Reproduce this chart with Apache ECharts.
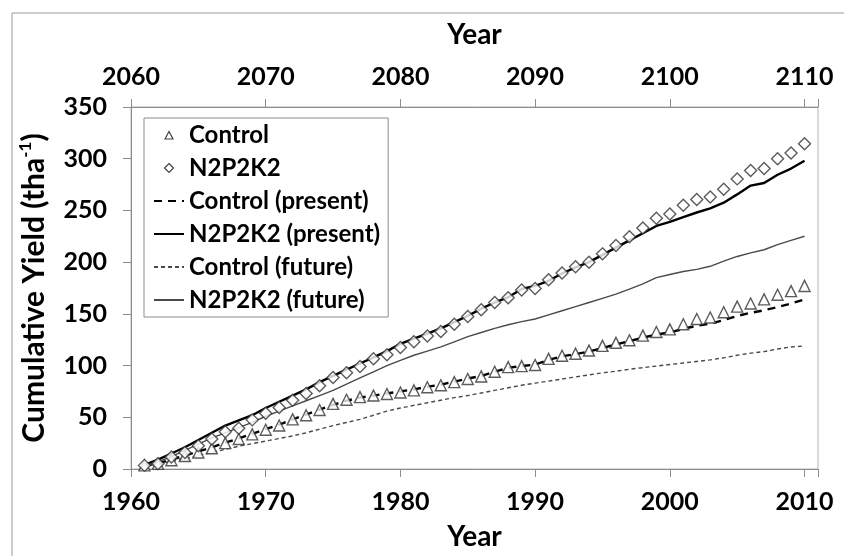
<!DOCTYPE html>
<html>
<head>
<meta charset="utf-8">
<script src="https://cdn.jsdelivr.net/npm/echarts@6/dist/echarts.min.js"></script>
<style>
  html, body { margin: 0; padding: 0; background: #fff; }
  #main { width: 844px; height: 556px; }
</style>
</head>
<body>
<div id="main"></div>
<script>
// years of the present run (bottom axis) and of the future run (top axis)
var years = [1961, 1962, 1963, 1964, 1965, 1966, 1967, 1968, 1969, 1970,
    1971, 1972, 1973, 1974, 1975, 1976, 1977, 1978, 1979, 1980,
    1981, 1982, 1983, 1984, 1985, 1986, 1987, 1988, 1989, 1990,
    1991, 1992, 1993, 1994, 1995, 1996, 1997, 1998, 1999, 2000,
    2001, 2002, 2003, 2004, 2005, 2006, 2007, 2008, 2009, 2010];
var futureYears = [2061, 2062, 2063, 2064, 2065, 2066, 2067, 2068, 2069, 2070,
    2071, 2072, 2073, 2074, 2075, 2076, 2077, 2078, 2079, 2080,
    2081, 2082, 2083, 2084, 2085, 2086, 2087, 2088, 2089, 2090,
    2091, 2092, 2093, 2094, 2095, 2096, 2097, 2098, 2099, 2100,
    2101, 2102, 2103, 2104, 2105, 2106, 2107, 2108, 2109, 2110];

// observed cumulative yield (markers)
var controlObs = [3.5, 5, 8.5, 12.5, 16, 20, 25, 29, 33.5, 38,
    42, 48, 52, 57, 63, 67, 69.5, 71, 72.5, 74,
    76, 79, 81, 84, 87, 89.5, 94, 98.5, 99.5, 100.5,
    106.5, 109.5, 111.5, 114.5, 119, 122, 124.5, 129, 132.5, 135,
    140, 145, 146.5, 151.5, 157, 160, 164, 168.5, 172, 177];
var n2p2k2Obs = [3.5, 5, 11.5, 16, 22.5, 29, 36, 39.5, 47.5, 54,
    59.5, 66.5, 73, 80.5, 88.5, 93, 99, 106.5, 110.5, 117.5,
    123, 128.5, 133, 140, 147.5, 154, 161, 165.5, 173, 174.5,
    183, 189.5, 195.5, 200, 208, 216, 224.5, 233, 242.5, 246.5,
    255, 260.5, 263, 270.5, 280.5, 288.5, 290.5, 300, 305.5, 314.5];

// simulated, present climate
var controlPresent = [3, 5.5, 9, 13, 17, 21, 25.5, 29.5, 34, 38.5,
    43, 48, 52.5, 57.5, 62, 66, 69, 71, 73, 75,
    77, 79.5, 81.5, 84.5, 87.5, 90, 94, 98, 99.5, 101,
    105.5, 109, 111, 113.5, 117, 120.5, 123.5, 127, 130, 132,
    135.5, 138.5, 140.5, 144, 148, 151, 153.5, 156.5, 160, 164];
var n2p2k2Present = [4, 9, 15, 21, 28, 35, 42, 47, 52, 59,
    65, 71, 77, 84, 90, 96, 102, 108, 114, 121,
    126, 131, 136, 142, 148, 155, 161, 166, 174, 177,
    182, 189, 195, 200, 207, 214, 221, 228, 235, 239,
    243.5, 248, 252, 257.5, 265.5, 274, 276.5, 284.5, 290.5, 298];

// simulated, future climate
var controlFuture = [3, 5, 7.5, 10, 13, 16, 19, 22, 24.5, 27,
    29.5, 32, 35, 38.5, 42, 45, 48, 52, 56, 59,
    61.5, 64, 66.5, 69, 71, 73.5, 76, 78.5, 81, 83,
    85, 87, 89, 91, 93, 94.5, 96.5, 98, 99.5, 101,
    102.5, 104, 105.5, 107.5, 110, 112, 113.5, 116, 118, 119];
var n2p2k2Future = [3, 7, 12, 18, 24, 30, 35, 40, 45, 51,
    56, 61, 66, 71, 76, 82, 88, 94, 100, 105,
    110, 114, 118, 123, 128, 132, 136, 139.5, 142.5, 145,
    149, 153, 157, 161, 165, 169, 174, 179, 185, 188,
    191, 193, 196, 201, 205.5, 209, 212, 217, 221, 225];

var yTicks = [0, 50, 100, 150, 200, 250, 300, 350];

function pairs(xs, ys) {
    return xs.map((x, i) => [x, ys[i]]);
}

var FONT = 'Lato';
var labelStyle = {color: '#000', fontFamily: FONT, fontWeight: 'bold', fontSize: 25};
var nameStyle = {color: '#000', fontFamily: FONT, fontWeight: 'bold', fontSize: 28};
var grayLine = {show: true, lineStyle: {color: '#8c8c8c', width: 1}};
var grayTick = {show: true, inside: false, length: 8, lineStyle: {color: '#8c8c8c', width: 1}};

// small legend marks, padded out to the 30x10 legend box
var triangleIcon = 'path://M0,0 M30,10 M11,9 L15,1.5 L19,9 Z';
var diamondIcon = 'path://M0,0 M30,10 M15,0.5 L19.5,5 L15,9.5 L10.5,5 Z';
var hollowMark = {color: '#fff', borderColor: '#111', borderWidth: 1.2};

var chartDom = document.getElementById('main');
var myChart = echarts.init(chartDom, null, {renderer: 'canvas'});

var option = {
    animation: false,
    backgroundColor: '#fff',
    graphic: [{
        // outer frame, only its left and top edges are inside the picture
        type: 'rect',
        shape: {x: 12, y: 13, width: 900, height: 700},
        style: {fill: 'none', stroke: '#9a9a9a', lineWidth: 1},
        silent: true
    }],
    grid: {
        left: 131, right: 26, top: 107, bottom: 78,
        show: true, borderColor: '#b4b4b4', borderWidth: 1
    },
    legend: {
        orient: 'vertical',
        left: 144, top: 118,
        padding: [5, 8, 5, 9],
        itemWidth: 30, itemHeight: 10, itemGap: 9,
        symbolKeepAspect: false,
        borderColor: '#8c8c8c', borderWidth: 1,
        backgroundColor: '#fff',
        textStyle: {color: '#000', fontFamily: FONT, fontWeight: 'bold', fontSize: 24},
        data: [
            {name: 'Control', icon: triangleIcon, itemStyle: hollowMark},
            {name: 'N2P2K2', icon: diamondIcon, itemStyle: hollowMark},
            {name: 'Control (present)', itemStyle: {opacity: 0}},
            {name: 'N2P2K2 (present)', itemStyle: {opacity: 0}},
            {name: 'Control (future)', itemStyle: {opacity: 0}},
            {name: 'N2P2K2 (future)', itemStyle: {opacity: 0}}
        ]
    },
    xAxis: [{
        type: 'value', position: 'bottom',
        min: 1960, max: 2011, interval: 10,
        name: 'Year', nameLocation: 'middle', nameGap: 54,
        nameTextStyle: nameStyle,
        axisLine: grayLine, axisTick: grayTick, splitLine: {show: false},
        axisLabel: Object.assign({margin: 20, formatter: v => (v % 10 === 0 ? String(v) : '')}, labelStyle)
    }, {
        type: 'value', position: 'top',
        min: 2060, max: 2111, interval: 10,
        name: 'Year', nameLocation: 'middle', nameGap: 58,
        nameTextStyle: nameStyle,
        axisLine: grayLine, axisTick: grayTick, splitLine: {show: false},
        axisLabel: Object.assign({margin: 18, formatter: v => (v % 10 === 0 ? String(v) : '')}, labelStyle)
    }],
    yAxis: {
        type: 'value', min: yTicks[0], max: yTicks[yTicks.length - 1], interval: 50,
        name: '{t|Cumulative Yield (tha}{s|-1}{t|)}',
        nameLocation: 'middle', nameRotate: 90, nameGap: 80,
        nameTextStyle: {
            rich: {
                t: {color: '#000', fontFamily: FONT, fontWeight: 'bold', fontSize: 30, lineHeight: 34},
                s: {color: '#000', fontFamily: FONT, fontWeight: 'bold', fontSize: 17, lineHeight: 34, verticalAlign: 'top'}
            }
        },
        axisLine: grayLine, axisTick: grayTick, splitLine: {show: false},
        axisLabel: Object.assign({margin: 24}, labelStyle)
    },
    series: [
        {
            name: 'Control', type: 'scatter', xAxisIndex: 0, z: 5,
            symbol: 'triangle', symbolSize: 11,
            itemStyle: {color: '#fff', borderColor: '#333', borderWidth: 1.4},
            data: pairs(years, controlObs)
        },
        {
            name: 'N2P2K2', type: 'scatter', xAxisIndex: 0, z: 5,
            symbol: 'diamond', symbolSize: 12,
            itemStyle: {color: '#fff', borderColor: '#333', borderWidth: 1.4},
            data: pairs(years, n2p2k2Obs)
        },
        {
            name: 'Control (present)', type: 'line', xAxisIndex: 0, z: 3,
            symbol: 'none', color: '#000',
            lineStyle: {color: '#000', width: 2.4, type: [8, 6]},
            data: pairs(years, controlPresent)
        },
        {
            name: 'N2P2K2 (present)', type: 'line', xAxisIndex: 0, z: 3,
            symbol: 'none', color: '#000',
            lineStyle: {color: '#000', width: 2.4},
            data: pairs(years, n2p2k2Present)
        },
        {
            name: 'Control (future)', type: 'line', xAxisIndex: 1, z: 3,
            symbol: 'none', color: '#4a4a4a',
            lineStyle: {color: '#4a4a4a', width: 1.4, type: [4, 3]},
            data: pairs(futureYears, controlFuture)
        },
        {
            name: 'N2P2K2 (future)', type: 'line', xAxisIndex: 1, z: 3,
            symbol: 'none', color: '#4a4a4a',
            lineStyle: {color: '#4a4a4a', width: 1.4},
            data: pairs(futureYears, n2p2k2Future)
        }
    ]
};

option && myChart.setOption(option);
</script>
</body>
</html>
